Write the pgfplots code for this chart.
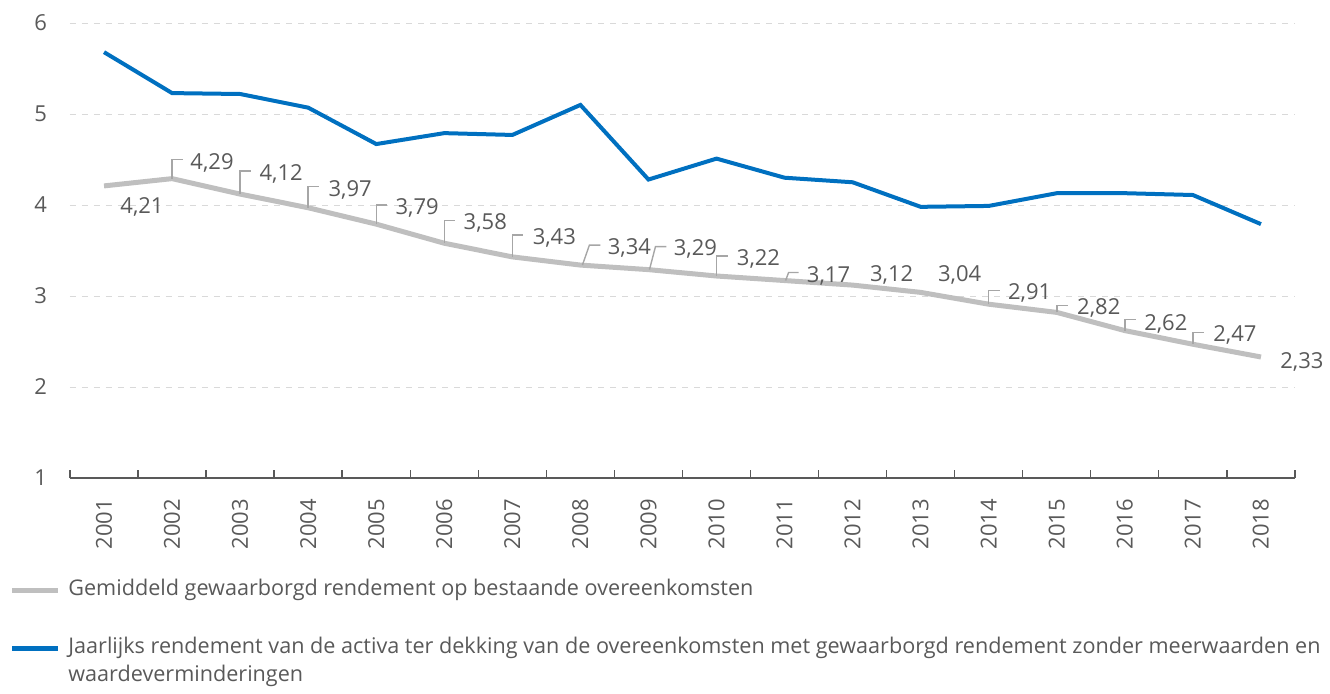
\documentclass[border=0pt]{standalone}
\usepackage{pgfplots}
\pgfplotsset{compat=1.18}
\usepackage{fontspec}
\setmainfont{Open Sans}
\definecolor{lgray}{HTML}{BFBFBF}
\definecolor{lblue}{HTML}{0070C0}
\definecolor{tgray}{HTML}{595959}
\definecolor{ggray}{HTML}{D9D9D9}
\definecolor{leadgray}{HTML}{A6A6A6}
\begin{document}
\begin{tikzpicture}
\path[use as bounding box] (0,0) rectangle (665pt,-346.5pt);
\begin{axis}[
  at={(35pt,-239pt)}, anchor=south west,
  scale only axis, width=612.5pt, height=227.5pt,
  xmin=2000.5, xmax=2018.5, ymin=1, ymax=6,
  axis lines*=left,
  y axis line style={draw=none},
  x axis line style={-, draw=tgray, line width=0.7pt},
  xtick={2001,...,2018},
  minor xtick={2000.5,2001.5,...,2018.5},
  major tick length=0pt,
  minor tick length=4pt,
  tick align=inside,
  minor tick style={draw=tgray, line width=0.7pt},
  ytick={1,...,6},
  ymajorgrids,
  major grid style={dashed, draw=ggray, line width=0.5pt},
  x tick label style={/pgf/number format/set thousands separator={}},
  xticklabel style={yshift=-7pt, rotate=90, anchor=east, font=\fontsize{11}{12}\selectfont, text=tgray},
  yticklabel style={xshift=-8pt, font=\fontsize{11}{12}\selectfont, text=tgray},
  /pgf/number format/assume math mode=true,
  clip=false,
  every node/.append style={text=tgray},
]
\addplot[lgray, line width=2.5pt] coordinates {
(2001,4.21)(2002,4.29)(2003,4.12)(2004,3.97)(2005,3.79)(2006,3.58)(2007,3.43)(2008,3.34)(2009,3.29)
(2010,3.22)(2011,3.17)(2012,3.12)(2013,3.04)(2014,2.91)(2015,2.82)(2016,2.62)(2017,2.47)(2018,2.33)};
\addplot[lblue, line width=2pt] coordinates {
(2001,5.68)(2002,5.23)(2003,5.22)(2004,5.07)(2005,4.67)(2006,4.79)(2007,4.77)(2008,5.10)(2009,4.28)
(2010,4.51)(2011,4.30)(2012,4.25)(2013,3.98)(2014,3.99)(2015,4.13)(2016,4.13)(2017,4.11)(2018,3.79)};

\tikzset{lb/.style={anchor=west, inner sep=0pt, font=\fontsize{11}{12}\selectfont, text=tgray},
         ld/.style={draw=leadgray, line width=0.7pt}}
% labels
\node[lb, xshift=8pt, yshift=-10.5pt] at (axis cs:2001,4.21) {4,21};
\draw[ld] (axis cs:2002,4.29) -- ++(0pt,9.5pt) -- ++(5.5pt,0pt);
\node[lb, xshift=9pt, yshift=8pt] at (axis cs:2002,4.29) {4,29};
\draw[ld] (axis cs:2003,4.12) -- ++(0pt,11.5pt) -- ++(5.5pt,0pt);
\node[lb, xshift=9.5pt, yshift=10pt] at (axis cs:2003,4.12) {4,12};
\draw[ld] (axis cs:2004,3.97) -- ++(0pt,10.5pt) -- ++(5.5pt,0pt);
\node[lb, xshift=10pt, yshift=9pt] at (axis cs:2004,3.97) {3,97};
\draw[ld] (axis cs:2005,3.79) -- ++(0pt,9.5pt) -- ++(5.5pt,0pt);
\node[lb, xshift=9.5pt, yshift=8pt] at (axis cs:2005,3.79) {3,79};
\draw[ld] (axis cs:2006,3.58) -- ++(0pt,11.5pt) -- ++(5.5pt,0pt);
\node[lb, xshift=9.5pt, yshift=10pt] at (axis cs:2006,3.58) {3,58};
\draw[ld] (axis cs:2007,3.43) -- ++(0pt,11pt) -- ++(5.5pt,0pt);
\node[lb, xshift=10pt, yshift=9.5pt] at (axis cs:2007,3.43) {3,43};
\draw[ld] (axis cs:2008,3.34) ++(1pt,0pt) -- ++(3.5pt,10pt) -- ++(5.5pt,0pt);
\node[lb, xshift=13.5pt, yshift=8.5pt] at (axis cs:2008,3.34) {3,34};
\draw[ld] (axis cs:2009,3.29) ++(0.5pt,0pt) -- ++(3pt,11.5pt) -- ++(5.5pt,0pt);
\node[lb, xshift=12.5pt, yshift=10.5pt] at (axis cs:2009,3.29) {3,29};
\draw[ld] (axis cs:2010,3.22) -- ++(0pt,10pt) -- ++(5.5pt,0pt);
\node[lb, xshift=10pt, yshift=8.5pt] at (axis cs:2010,3.22) {3,22};
\draw[ld] (axis cs:2011,3.17) ++(0.5pt,0pt) -- ++(1.5pt,4pt) -- ++(5pt,0pt);
\node[lb, xshift=11pt, yshift=2.5pt] at (axis cs:2011,3.17) {3,17};
\node[lb, xshift=8.5pt, yshift=5pt] at (axis cs:2012,3.12) {3,12};
\node[lb, xshift=8.5pt, yshift=8.5pt] at (axis cs:2013,3.04) {3,04};
\draw[ld] (axis cs:2014,2.91) -- ++(0pt,7pt) -- ++(5.5pt,0pt);
\node[lb, xshift=9.5pt, yshift=5.5pt] at (axis cs:2014,2.91) {2,91};
\draw[ld] (axis cs:2015,2.82) -- ++(0pt,3.5pt) -- ++(5.5pt,0pt);
\node[lb, xshift=10pt, yshift=2pt] at (axis cs:2015,2.82) {2,82};
\draw[ld] (axis cs:2016,2.62) -- ++(0pt,5.5pt) -- ++(5.5pt,0pt);
\node[lb, xshift=9.5pt, yshift=3.5pt] at (axis cs:2016,2.62) {2,62};
\draw[ld] (axis cs:2017,2.47) -- ++(0pt,6pt) -- ++(5.5pt,0pt);
\node[lb, xshift=10pt, yshift=4.5pt] at (axis cs:2017,2.47) {2,47};
\node[lb, xshift=9.5pt, yshift=-2.5pt] at (axis cs:2018,2.33) {2,33};
\end{axis}
% legend
\draw[lgray, line width=2.5pt] (6pt,-295pt) -- (29pt,-295pt);
\node[anchor=west, inner sep=0pt, text=tgray, font=\fontsize{10.8}{14}\selectfont] at (34pt,-295pt) {Gemiddeld gewaarborgd rendement op bestaande overeenkomsten};
\draw[lblue, line width=2.5pt] (6pt,-324pt) -- (29pt,-324pt);
\node[anchor=north west, inner sep=0pt, text=tgray, align=left, font=\fontsize{10.8}{14}\selectfont] at (34pt,-318.5pt) {Jaarlijks rendement van de activa ter dekking van de overeenkomsten met gewaarborgd rendement zonder meerwaarden en\\waardeverminderingen};
\end{tikzpicture}
\end{document}
